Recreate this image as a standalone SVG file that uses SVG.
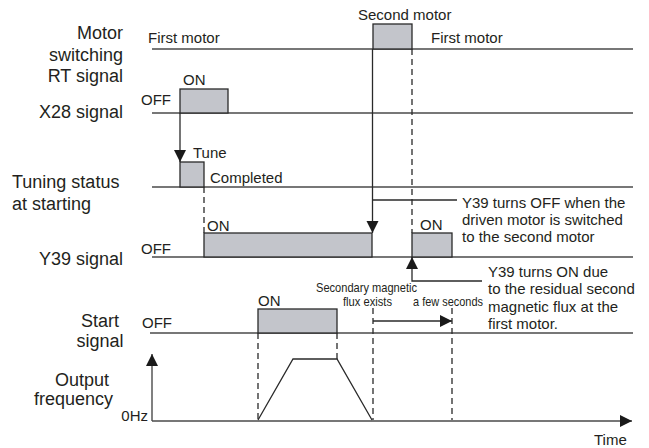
<svg xmlns="http://www.w3.org/2000/svg" width="649" height="448" viewBox="0 0 649 448">
<defs>
<style>
text{font-family:"Liberation Sans",Arial,sans-serif;fill:#231f20}
.lbl{font-size:18px}
.sm{font-size:15px}
.nar{font-size:13px}
.base{stroke:#4a4a4a;stroke-width:1.4;fill:none}
.ln{stroke:#2a2a2a;stroke-width:1.3;fill:none}
.dash{stroke:#2a2a2a;stroke-width:1.3;fill:none;stroke-dasharray:6 4}
.box{fill:#c3c5cb;stroke:#2a2a2a;stroke-width:1.3}
.ar{fill:#1a1a1a}
</style>
<marker id="ah" markerUnits="userSpaceOnUse" markerWidth="14" markerHeight="14" refX="12" refY="6" orient="auto">
<path d="M0,0 L12,6 L0,12 Z" fill="#1a1a1a"/>
</marker>
</defs>
<rect width="649" height="448" fill="#fff"/>

<g id="rt-signal">
<text class="lbl" x="123" y="39" text-anchor="end">Motor</text>
<text class="lbl" x="123" y="61" text-anchor="end">switching</text>
<text class="lbl" x="123" y="82" text-anchor="end">RT signal</text>
<line class="base" x1="152" y1="49" x2="633" y2="49"/>
<rect class="box" x="373" y="24" width="39" height="25"/>
<text class="sm" x="148" y="43">First motor</text>
<text class="sm" x="358" y="20">Second motor</text>
<text class="sm" x="431" y="43">First motor</text>
</g>

<g id="x28-signal">
<text class="lbl" x="123" y="118" text-anchor="end">X28 signal</text>
<line class="base" x1="152" y1="113" x2="633" y2="113"/>
<rect class="box" x="180" y="89" width="48" height="24"/>
<text class="sm" x="183" y="85">ON</text>
<text class="sm" x="141" y="105">OFF</text>
</g>

<g id="tuning-status">
<text class="lbl" x="12" y="188">Tuning status</text>
<text class="lbl" x="12" y="210">at starting</text>
<line class="base" x1="152" y1="187" x2="633" y2="187"/>
<rect class="box" x="180" y="162" width="24" height="25"/>
<text class="sm" x="193" y="158">Tune</text>
<text class="sm" x="210" y="183">Completed</text>
</g>

<g id="y39-signal">
<text class="lbl" x="123" y="265" text-anchor="end">Y39 signal</text>
<line class="base" x1="152" y1="257" x2="633" y2="257"/>
<rect class="box" x="204" y="233" width="168" height="24"/>
<rect class="box" x="412" y="233" width="40" height="24"/>
<text class="sm" x="207" y="231">ON</text>
<text class="sm" x="420" y="230">ON</text>
<text class="sm" x="141" y="254">OFF</text>
</g>

<g id="start-signal">
<text class="lbl" x="100" y="327" text-anchor="middle">Start</text>
<text class="lbl" x="100" y="347" text-anchor="middle">signal</text>
<line class="base" x1="150" y1="333" x2="633" y2="333"/>
<rect class="box" x="258" y="309" width="79" height="24"/>
<text class="sm" x="258" y="306">ON</text>
<text class="sm" x="142" y="328">OFF</text>
</g>

<g id="output-frequency">
<text class="lbl" x="55" y="386">Output</text>
<text class="lbl" x="34" y="405">frequency</text>
<text class="sm" x="148" y="421" text-anchor="end">0Hz</text>
<text class="sm" x="594" y="445">Time</text>
<line class="base" x1="152" y1="421" x2="152" y2="354" marker-end="url(#ah)"/>
<line class="base" x1="152" y1="421" x2="632" y2="421" marker-end="url(#ah)"/>
<polyline class="ln" points="258,420 293,359 337,359 372,420"/>
</g>

<g id="annotations">
<text class="nar" x="316" y="292" textLength="101" lengthAdjust="spacingAndGlyphs">Secondary magnetic</text>
<text class="nar" x="343" y="306" textLength="49" lengthAdjust="spacingAndGlyphs">flux exists</text>
<text class="nar" x="413" y="306" textLength="70" lengthAdjust="spacingAndGlyphs">a few seconds</text>
<text class="sm" x="462" y="208">Y39 turns OFF when the</text>
<text class="sm" x="462" y="225">driven motor is switched</text>
<text class="sm" x="462" y="242">to the second motor</text>
<text class="sm" x="488" y="277">Y39 turns ON due</text>
<text class="sm" x="488" y="294">to the residual second</text>
<text class="sm" x="488" y="312">magnetic flux at the</text>
<text class="sm" x="488" y="329">first motor.</text>
</g>

<g id="connectors">
<line class="ln" x1="180" y1="113" x2="180" y2="162" marker-end="url(#ah)"/>
<line class="ln" x1="372.5" y1="49" x2="372.5" y2="233" marker-end="url(#ah)"/>
<line class="ln" x1="373" y1="200" x2="457" y2="200"/>
<polyline class="ln" points="482,281 412,281 412,257" marker-end="url(#ah)"/>
<line class="ln" x1="373" y1="321" x2="452" y2="321" marker-end="url(#ah)"/>
<line class="dash" x1="412" y1="49" x2="412" y2="233"/>
<line class="dash" x1="204" y1="187" x2="204" y2="233"/>
<line class="dash" x1="258" y1="333" x2="258" y2="420"/>
<line class="dash" x1="337" y1="333" x2="337" y2="359"/>
<line class="dash" x1="373" y1="308" x2="373" y2="420"/>
<line class="dash" x1="452" y1="308" x2="452" y2="420"/>
</g>
</svg>
